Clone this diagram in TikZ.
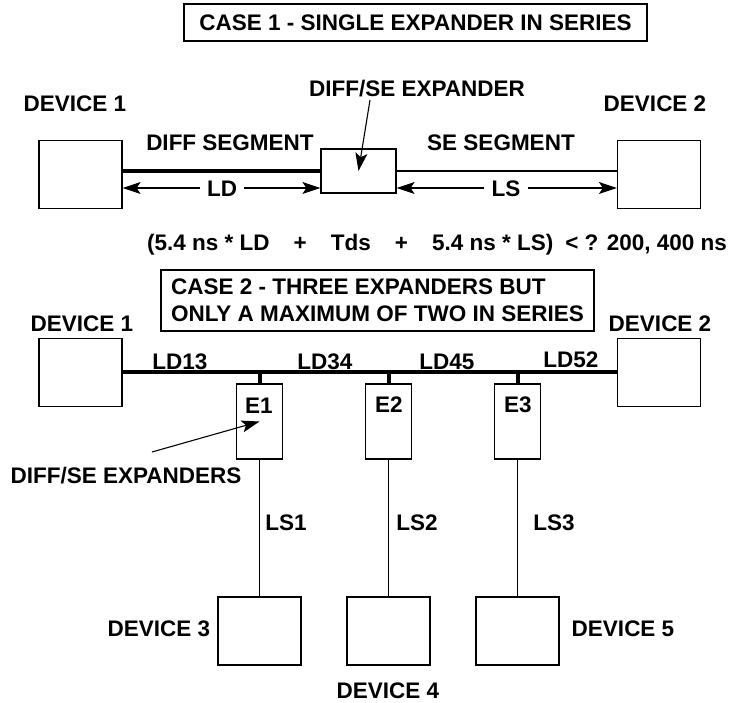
\documentclass[tikz,border=0pt]{standalone}
\usepackage{fontspec}
\setmainfont{Liberation Sans}
\usetikzlibrary{arrows.meta}
\begin{document}
\begin{tikzpicture}[x=1pt,y=-1pt,
  lbl/.style={font=\bfseries\fontsize{22.5}{27}\selectfont, inner sep=0pt, text height=16.1pt, text depth=0pt},
  dev/.style={draw, line width=1.2pt, inner sep=0pt, minimum width=83pt, minimum height=68pt},
  expbox/.style={draw, line width=1.2pt, inner sep=0pt, minimum width=46pt, minimum height=75pt},
  bus/.style={line width=4pt},
  wire/.style={line width=1.1pt},
  arr/.style={line width=1.1pt, -{Stealth[length=18pt,width=12pt,inset=4pt]}},
]
\useasboundingbox (0,0) rectangle (732,703);

% ---------------- CASE 1 ----------------
\node[lbl, draw, line width=1.2pt, minimum width=463pt, minimum height=37pt] (t1) at (415.5,22.5) {CASE 1 - SINGLE EXPANDER IN SERIES};

\node[dev] (d1) at (80.5,174.5) {};
\node[dev] (d2) at (659,174.5) {};
\node[draw, line width=1.2pt, inner sep=0pt, minimum width=75pt, minimum height=44pt] (x1) at (358.5,171) {};

\node[lbl] (d1l) at (75,103) {DEVICE 1};
\node[lbl] (d2l) at (655,103) {DEVICE 2};
\node[lbl] (xl) at (417,88) {DIFF/SE EXPANDER};
\node[lbl] (ds) at (230,142) {DIFF SEGMENT};
\node[lbl] (ss) at (501,142) {SE SEGMENT};

\draw[bus] (d1.east |- x1.west) -- (x1.west);
\draw[wire] (x1.east) -- (x1.east -| d2.west);

\node[lbl, inner xsep=7pt, inner ysep=0pt] (ld) at (222,188) {LD};
\node[lbl, inner xsep=7pt, inner ysep=0pt] (ls) at (506,188) {LS};
\draw[arr] (ld.west) -- (ld.west -| d1.east);
\draw[arr] (ld.east) -- (ld.east -| x1.west);
\draw[arr] (ls.west) -- (ls.west -| x1.east);
\draw[arr] (ls.east) -- (ls.east -| d2.west);

\coordinate (xs) at (370,100);
\draw[arr] (xs) -- (x1.center);

\node[lbl, anchor=west] (f) at (147,242) {(5.4 ns * LD\hspace{24pt}+\hspace{24pt}Tds\hspace{24pt}+\hspace{24pt}5.4 ns * LS)\hspace{12pt}< ? 200, 400 ns};

% ---------------- CASE 2 ----------------
\node[draw, line width=1.2pt, minimum width=433pt, minimum height=61pt, inner sep=0pt,
      align=left, font=\bfseries\fontsize{22.5}{27}\selectfont] (t2) at (377.5,300.5)
  {CASE 2 - THREE EXPANDERS BUT\\ONLY A MAXIMUM OF TWO IN SERIES};

\node[dev] (d1b) at (80.5,372.5) {};
\node[dev] (d2b) at (659,372.5) {};
\node[lbl] (d1bl) at (82,323) {DEVICE 1};
\node[lbl] (d2bl) at (660,323) {DEVICE 2};

\draw[bus] (d1b.east) -- (d2b.west);

\node[expbox] (e1) at (259.5,421.5) {};
\node[expbox] (e2) at (388.5,421.5) {};
\node[expbox] (e3) at (517.5,421.5) {};
\draw[bus] (e1.north) -- (e1.north |- d1b.east);
\draw[bus] (e2.north) -- (e2.north |- d1b.east);
\draw[bus] (e3.north) -- (e3.north |- d1b.east);

\node[lbl] (e1l) at (259,405) {E1};
\node[lbl] (e2l) at (389,404) {E2};
\node[lbl] (e3l) at (518,404) {E3};

\node[lbl] (l13) at (180,361) {LD13};
\node[lbl] (l34) at (325,361) {LD34};
\node[lbl] (l45) at (447,361) {LD45};
\node[lbl] (l52) at (571,359) {LD52};

\coordinate (es) at (152,452);
\draw[arr] (es) -- (e1.center);
\node[lbl] (dse) at (126,475) {DIFF/SE EXPANDERS};

\node[dev] (d3) at (259.5,631) {};
\node[dev] (d4) at (388.5,631) {};
\node[dev] (d5) at (517.5,631) {};
\draw[wire] (e1.south) -- (d3.north);
\draw[wire] (e2.south) -- (d4.north);
\draw[wire] (e3.south) -- (d5.north);

\node[lbl] (ls1) at (286,522) {LS1};
\node[lbl] (ls2) at (417,522) {LS2};
\node[lbl] (ls3) at (554,522) {LS3};

\node[lbl] (d3l) at (159,628) {DEVICE 3};
\node[lbl] (d4l) at (388,690) {DEVICE 4};
\node[lbl] (d5l) at (623,628) {DEVICE 5};
\end{tikzpicture}
\end{document}
